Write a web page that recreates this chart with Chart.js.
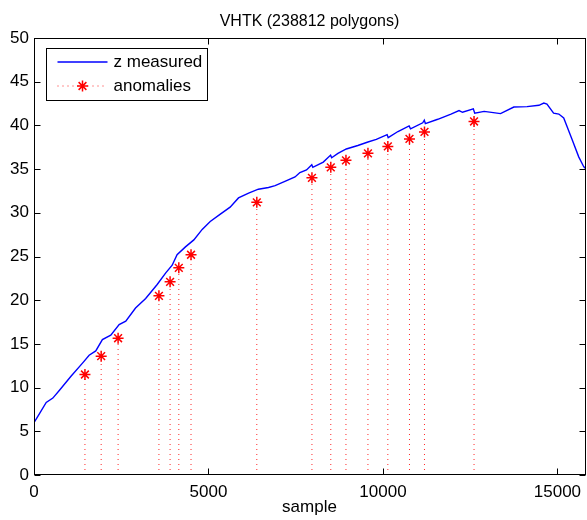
<!DOCTYPE html>
<html>
<head>
<meta charset="utf-8">
<script src="https://cdn.jsdelivr.net/npm/chart.js@4"></script>
<style>
  html, body { margin: 0; padding: 0; background: #fff; overflow: hidden; }
  #wrap { width: 592px; height: 520px; }
</style>
</head>
<body>
<div id="wrap"><canvas id="zChart" width="592" height="520"></canvas></div>
<script>
// measured z per sample
const sampleX = [0, 110, 350, 540, 730, 1060, 1390, 1580, 1770, 1960, 2200, 2440, 2630, 2910, 3200,
  3530, 3770, 3960, 4100, 4340, 4580, 4820, 5050, 5340, 5620, 5860, 6150, 6430, 6720, 6910,
  7190, 7480, 7620, 7810, 7960, 7990, 8290, 8500, 8530, 8710, 8950, 9280, 9570, 9810, 10120,
  10150, 10430, 10750, 10790, 11140, 11185, 11215, 11570, 11950, 12180, 12280, 12590, 12630, 12900, 13370,
  13750, 14130, 14470, 14610, 14700, 14890, 15040, 15180, 15420, 15610, 15750, 15790];
const zMeasured = [6.0, 6.7, 8.3, 8.8, 9.7, 11.3, 12.8, 13.7, 14.2, 15.5, 16.0, 17.2, 17.6, 19.1, 20.2,
  21.8, 23.1, 24.0, 25.2, 26.1, 26.9, 28.1, 29.0, 29.85, 30.65, 31.7, 32.25, 32.7, 32.9, 33.1,
  33.6, 34.1, 34.6, 34.9, 35.5, 35.2, 35.8, 36.6, 36.3, 36.8, 37.3, 37.7, 38.1, 38.4, 38.95,
  38.6, 39.3, 39.95, 39.6, 40.3, 40.6, 40.2, 40.7, 41.3, 41.7, 41.5, 41.9, 41.4, 41.6, 41.35,
  42.1, 42.15, 42.3, 42.55, 42.45, 41.4, 41.3, 40.85, 38.4, 36.4, 35.3, 35.1];

// anomalies
const anomalyX = [1460, 1925, 2410, 3580, 3900, 4150, 4500, 6385, 7965, 8505, 8940, 9570, 10140, 10760, 11190, 12610];
const anomalyZ = [11.5, 13.6, 15.65, 20.5, 22.1, 23.7, 25.2, 31.2, 34.0, 35.2, 36.0, 36.8, 37.6, 38.45, 39.25, 40.45];

const xTicks = [0, 5000, 10000, 15000];
const yTicks = [0, 5, 10, 15, 20, 25, 30, 35, 40, 45, 50];
const xMax = 15790;

const FONT = 'Liberation Sans, Arial, Helvetica, sans-serif';

const curve = sampleX.map((x, i) => ({x: x, y: zMeasured[i]}));
const stars = anomalyX.map((x, i) => ({x: x, y: anomalyZ[i]}));
const stems = [];
anomalyX.forEach((x, i) => {
  stems.push({x: x, y: 0}, {x: x, y: anomalyZ[i]}, {x: x, y: null});
});

function drawStar(ctx, x, y, r) {
  const d = r * Math.SQRT1_2;
  ctx.beginPath();
  ctx.moveTo(x - r, y); ctx.lineTo(x + r, y);
  ctx.moveTo(x, y - r); ctx.lineTo(x, y + r);
  ctx.moveTo(x - d, y - d); ctx.lineTo(x + d, y + d);
  ctx.moveTo(x - d, y + d); ctx.lineTo(x + d, y - d);
  ctx.stroke();
}

// matlab style box with inward ticks
const axesBox = {
  id: 'axesBox',
  afterDatasetsDraw(chart) {
    const {ctx, chartArea: a, scales} = chart;
    const L = Math.round(a.left) + 0.5, R = Math.round(a.right) + 0.5;
    const T = Math.round(a.top) + 0.5, B = Math.round(a.bottom) - 0.5;
    const tl = 6;
    ctx.save();
    ctx.strokeStyle = '#000';
    ctx.lineWidth = 1;
    ctx.strokeRect(L, T, R - L, B - T);
    ctx.beginPath();
    xTicks.forEach(v => {
      const px = Math.round(scales.x.getPixelForValue(v)) + 0.5;
      ctx.moveTo(px, B); ctx.lineTo(px, B - tl);
      ctx.moveTo(px, T); ctx.lineTo(px, T + tl);
    });
    yTicks.forEach(v => {
      const py = Math.round(scales.y.getPixelForValue(v)) + 0.5;
      ctx.moveTo(L, py); ctx.lineTo(L + tl, py);
      ctx.moveTo(R, py); ctx.lineTo(R - tl, py);
    });
    ctx.stroke();
    ctx.restore();
  }
};

const boxLegend = {
  id: 'boxLegend',
  afterDraw(chart) {
    const {ctx, chartArea: a} = chart;
    const bx = Math.round(a.left) + 12.5, by = Math.round(a.top) + 10.5;
    const bw = 161, bh = 52;
    ctx.save();
    ctx.fillStyle = '#fff';
    ctx.fillRect(bx, by, bw, bh);
    ctx.strokeStyle = '#000';
    ctx.lineWidth = 1;
    ctx.strokeRect(bx, by, bw, bh);

    const x0 = bx + 11, x1 = bx + 61;
    const y0 = by + 13.5, y1 = by + 37.5;
    ctx.strokeStyle = '#0000ff';
    ctx.lineWidth = 1.3;
    ctx.beginPath(); ctx.moveTo(x0, y0); ctx.lineTo(x1, y0); ctx.stroke();

    ctx.lineWidth = 1;
    ctx.strokeStyle = 'rgba(255,0,0,0.85)';
    ctx.setLineDash([1, 4]);
    ctx.beginPath(); ctx.moveTo(x0, y1); ctx.lineTo(x1, y1); ctx.stroke();
    ctx.setLineDash([]);
    ctx.strokeStyle = '#ff0000';
    ctx.lineWidth = 1.5;
    drawStar(ctx, (x0 + x1) / 2, y1, 5.5);

    ctx.fillStyle = '#000';
    ctx.font = '17px ' + FONT;
    ctx.textBaseline = 'middle';
    ctx.fillText('z measured', bx + 67, y0);
    ctx.fillText('anomalies', bx + 67, y1);
    ctx.restore();
  }
};

new Chart(document.getElementById('zChart'), {
  type: 'line',
  data: {
    datasets: [
      {
        label: 'z measured',
        data: curve,
        borderColor: '#0000ff',
        borderWidth: 1.4,
        pointRadius: 0,
        tension: 0
      },
      {
        label: 'stems',
        data: stems,
        borderColor: 'rgba(255,0,0,0.85)',
        borderWidth: 1,
        borderDash: [1, 4],
        pointRadius: 0,
        spanGaps: false
      },
      {
        label: 'anomalies',
        data: stars,
        showLine: false,
        pointStyle: 'star',
        pointRadius: 5.5,
        borderColor: '#ff0000',
        backgroundColor: '#ff0000',
        pointBorderWidth: 1.5
      }
    ]
  },
  options: {
    responsive: false,
    animation: false,
    layout: { padding: { left: 0, right: 4, top: 0, bottom: 0 } },
    plugins: {
      legend: { display: false },
      tooltip: { enabled: false },
      title: {
        display: true,
        fullSize: false,
        text: 'VHTK (238812 polygons)',
        color: '#000',
        font: { family: FONT, size: 16, weight: 'normal', lineHeight: 1.25 },
        padding: { top: 12, bottom: 6 }
      }
    },
    scales: {
      x: {
        type: 'linear',
        min: 0,
        max: xMax,
        grid: { display: false, drawTicks: false },
        border: { display: false },
        afterBuildTicks: s => { s.ticks = xTicks.map(v => ({value: v})); },
        afterFit: s => { s.height = 45; },
        ticks: { color: '#000', padding: 7, font: { family: FONT, size: 17 }, callback: v => String(v) },
        title: {
          display: true,
          text: 'sample',
          color: '#000',
          font: { family: FONT, size: 17 },
          padding: { top: 0, bottom: 2 }
        }
      },
      y: {
        min: 0,
        max: 50,
        grid: { display: false, drawTicks: false },
        border: { display: false },
        afterBuildTicks: s => { s.ticks = yTicks.map(v => ({value: v})); },
        afterFit: s => { s.width = 34; },
        ticks: { color: '#000', padding: 5, font: { family: FONT, size: 17 }, callback: v => String(v) }
      }
    }
  },
  plugins: [axesBox, boxLegend]
});
</script>
</body>
</html>
